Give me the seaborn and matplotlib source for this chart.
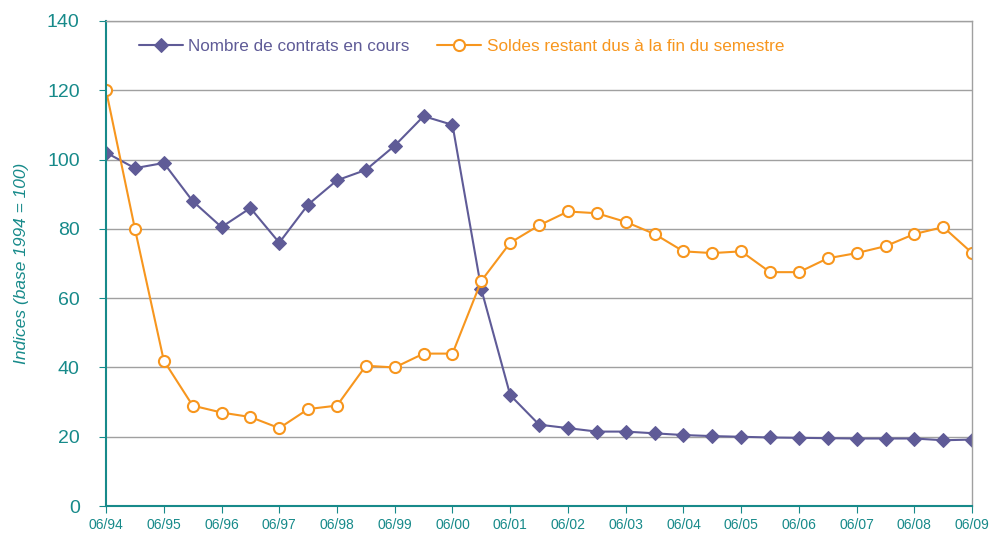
import matplotlib
matplotlib.use('Agg')
import matplotlib.pyplot as plt
import seaborn as sns
import pandas as pd

# semi-annual points from 06/94 to 06/09
periods = ['06/94', '12/94', '06/95', '12/95', '06/96', '12/96', '06/97', '12/97',
           '06/98', '12/98', '06/99', '12/99', '06/00', '12/00', '06/01', '12/01',
           '06/02', '12/02', '06/03', '12/03', '06/04', '12/04', '06/05', '12/05',
           '06/06', '12/06', '06/07', '12/07', '06/08', '12/08', '06/09']

contrats = [102, 97.5, 99, 88, 80.5, 86, 76, 87, 94, 97, 104, 112.5, 110, 62.5,
            32, 23.5, 22.5, 21.5, 21.5, 21, 20.5, 20.2, 20, 19.8, 19.7, 19.6,
            19.5, 19.5, 19.5, 19, 19.2]

soldes = [120, 80, 42, 29, 27, 25.7, 22.5, 28, 29, 40.5, 40, 44, 44, 65,
          76, 81, 85, 84.5, 82, 78.5, 73.5, 73, 73.5, 67.5, 67.5, 71.5,
          73, 75, 78.5, 80.5, 73]

tick_labels = periods[::2]

lab1 = 'Nombre de contrats en cours'
lab2 = 'Soldes restant dus à la fin du semestre'
purple = '#5f5b97'
orange = '#f7961e'
teal = '#178a8a'

df = pd.DataFrame({'idx': range(len(periods)), lab1: contrats, lab2: soldes})

sns.set_style('white')
plt.rcParams['font.family'] = ['Liberation Sans', 'DejaVu Sans']

fig = plt.figure(figsize=(9.91, 5.35), dpi=100)
ax = fig.add_axes([0.107, 0.054, 0.874, 0.907])

sns.lineplot(data=df, x='idx', y=lab1, ax=ax, color=purple, marker='D',
             markersize=7, markeredgecolor=purple, linewidth=1.5, label=lab1)
sns.lineplot(data=df, x='idx', y=lab2, ax=ax, color=orange, marker='o',
             markersize=8, markerfacecolor='white', markeredgecolor=orange,
             markeredgewidth=1.5, linewidth=1.5, label=lab2)

ax.set_xlim(0, len(periods) - 1)
ax.set_ylim(0, 140)
ax.set_yticks(range(0, 141, 20))
ax.set_xticks(range(0, len(periods), 2))
ax.set_xticklabels(tick_labels)
ax.yaxis.grid(True, color='#a0a0a0', linewidth=1)
ax.set_axisbelow(True)

ax.tick_params(axis='y', labelsize=14, labelcolor=teal, length=5, color=teal,
               direction='out', left=True, pad=14)
ax.tick_params(axis='x', labelsize=10, labelcolor=teal, length=5, color=teal,
               direction='out', bottom=True)
for s in ['left', 'bottom']:
    ax.spines[s].set_color(teal)
    ax.spines[s].set_linewidth(1.5)
for s in ['top', 'right']:
    ax.spines[s].set_color('#a0a0a0')
    ax.spines[s].set_linewidth(1)

ax.set_xlabel('')
ax.set_ylabel('Indices (base 1994 = 100)', color=teal, fontsize=12.5,
              style='italic', labelpad=13)

leg = ax.legend(loc='upper left', ncol=2, frameon=False, fontsize=12.3,
                bbox_to_anchor=(0.02, 0.995), handlelength=2.6,
                handletextpad=0.3, columnspacing=1.6)
for t, c in zip(leg.get_texts(), [purple, orange]):
    t.set_color(c)

fig.savefig('out.png', dpi=100)
